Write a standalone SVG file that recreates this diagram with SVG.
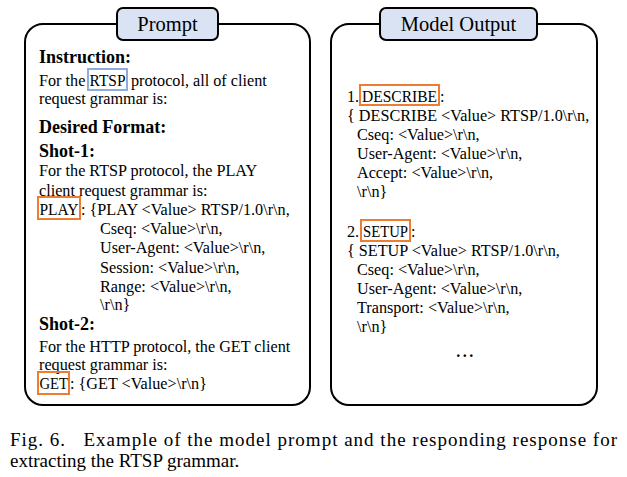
<svg xmlns="http://www.w3.org/2000/svg" width="627" height="477" viewBox="0 0 627 477">
<style>
.frame{fill:none;stroke:#000;stroke-width:2}
.title{fill:#dae3f3;stroke:#000;stroke-width:2}
.tt{font-family:"Liberation Serif","Times New Roman",serif;font-size:20.5px;fill:#000;text-anchor:middle}
.t{font-family:"Liberation Serif","Times New Roman",serif;font-size:16.2px;fill:#000}
.b{font-family:"Liberation Serif","Times New Roman",serif;font-size:18px;font-weight:bold;fill:#000}
.cap{font-family:"Liberation Serif","Times New Roman",serif;font-size:19px;fill:#000}
.hl{fill:none;stroke:#ed7d31;stroke-width:2}
.hb{fill:none;stroke:#8faadc;stroke-width:2}
</style>
<rect width="627" height="477" fill="#fff"/>
<g id="prompt">
<rect class="frame" x="25" y="24" width="285" height="381" rx="18"/>
<rect class="title" x="117" y="8" width="101" height="32" rx="6"/>
<text class="tt" x="167.5" y="31">Prompt</text>
<text class="b" x="39" y="63">Instruction:</text>
<text class="t" x="39" y="86">For the</text>
<text class="t" x="89.5" y="86" textLength="36" lengthAdjust="spacingAndGlyphs">RTSP</text>
<text class="t" x="131" y="86">protocol, all of client</text>
<rect class="hb" x="88" y="69" width="39" height="21"/>
<text class="t" x="39" y="104">request grammar is:</text>
<text class="b" x="39" y="133">Desired Format:</text>
<text class="b" x="39" y="157">Shot-1:</text>
<text class="t" x="39" y="176">For the RTSP protocol, the PLAY</text>
<text class="t" x="39" y="196">client request grammar is:</text>
<text class="t" x="39.5" y="215" textLength="39" lengthAdjust="spacingAndGlyphs">PLAY</text>
<text class="t" x="81" y="215">: {PLAY &lt;Value&gt; RTSP/1.0\r\n,</text>
<rect class="hl" x="38" y="197" width="42" height="22"/>
<text class="t" x="100" y="234">Cseq: &lt;Value&gt;\r\n,</text>
<text class="t" x="100" y="253">User-Agent: &lt;Value&gt;\r\n,</text>
<text class="t" x="100" y="273">Session: &lt;Value&gt;\r\n,</text>
<text class="t" x="100" y="292">Range: &lt;Value&gt;\r\n,</text>
<text class="t" x="100" y="310">\r\n}</text>
<text class="b" x="39" y="330">Shot-2:</text>
<text class="t" x="39" y="352">For the HTTP protocol, the GET client</text>
<text class="t" x="39" y="370">request grammar is:</text>
<text class="t" x="39.5" y="389" textLength="28.5" lengthAdjust="spacingAndGlyphs">GET</text>
<text class="t" x="70" y="389">: {GET &lt;Value&gt;\r\n}</text>
<rect class="hl" x="38" y="372" width="31" height="22"/>
</g>
<g id="output">
<rect class="frame" x="331" y="24" width="266" height="381" rx="18"/>
<rect class="title" x="380" y="8" width="157" height="32" rx="6"/>
<text class="tt" x="458.5" y="31">Model Output</text>
<text class="t" x="347" y="102">1.</text>
<text class="t" x="362" y="102" textLength="75" lengthAdjust="spacingAndGlyphs">DESCRIBE</text>
<text class="t" x="440" y="102">:</text>
<rect class="hl" x="360" y="85" width="79" height="20"/>
<text class="t" x="347" y="121">{ DESCRIBE &lt;Value&gt; RTSP/1.0\r\n,</text>
<text class="t" x="357" y="140">Cseq: &lt;Value&gt;\r\n,</text>
<text class="t" x="357" y="159">User-Agent: &lt;Value&gt;\r\n,</text>
<text class="t" x="357" y="178">Accept: &lt;Value&gt;\r\n,</text>
<text class="t" x="357" y="197">\r\n}</text>
<text class="t" x="347" y="237">2.</text>
<text class="t" x="363" y="237" textLength="45" lengthAdjust="spacingAndGlyphs">SETUP</text>
<text class="t" x="411" y="237">:</text>
<rect class="hl" x="361" y="220" width="49" height="21"/>
<text class="t" x="347" y="256">{ SETUP &lt;Value&gt; RTSP/1.0\r\n,</text>
<text class="t" x="357" y="275">Cseq: &lt;Value&gt;\r\n,</text>
<text class="t" x="357" y="294">User-Agent: &lt;Value&gt;\r\n,</text>
<text class="t" x="357" y="313">Transport: &lt;Value&gt;\r\n,</text>
<text class="t" x="357" y="332">\r\n}</text>
<text class="t" x="466" y="357" text-anchor="middle" font-weight="bold" letter-spacing="2.5">...</text>
</g>
<g id="caption">
<text class="cap" x="10" y="446" textLength="607" lengthAdjust="spacing" xml:space="preserve">Fig. 6.   Example of the model prompt and the responding response for</text>
<text class="cap" x="10" y="467">extracting the RTSP grammar.</text>
</g>
</svg>
